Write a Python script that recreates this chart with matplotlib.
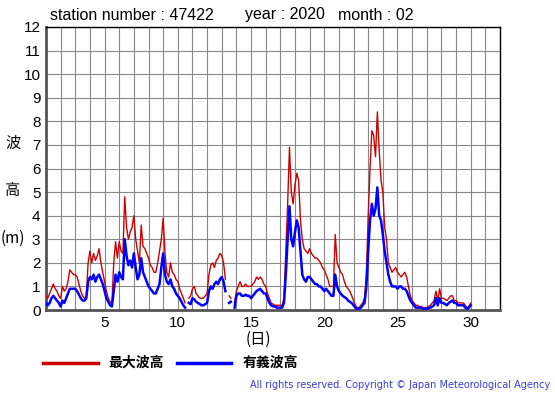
import numpy as np
import matplotlib
matplotlib.use("Agg")
import matplotlib.pyplot as plt

nan = np.nan
# 3-hourly values, day 1.0 .. day 30.0 (8 per day)
sig_wave = [
    0.3, 0.2, 0.3, 0.5, 0.6, 0.5, 0.4, 0.3,        # 1
    0.15, 0.4, 0.3, 0.5, 0.7, 0.9, 0.9, 0.9,       # 2
    0.9, 0.8, 0.65, 0.5, 0.4, 0.4, 0.5, 1.2,       # 3
    1.4, 1.3, 1.5, 1.2, 1.4, 1.5, 1.3, 1.1,        # 4
    0.8, 0.5, 0.35, 0.2, 0.15, 0.8, 1.5, 1.2,      # 5
    1.6, 1.4, 1.3, 3.0, 2.3, 1.9, 2.1, 1.8,        # 6
    2.4, 1.8, 1.3, 1.5, 2.2, 1.6, 1.4, 1.2,        # 7
    1.0, 0.9, 0.8, 0.7, 0.7, 0.9, 1.1, 1.8,        # 8
    2.4, 1.5, 1.2, 1.1, 1.3, 1.0, 0.9, 0.7,        # 9
    0.6, 0.5, 0.35, 0.2, 0.1, nan, 0.3, 0.25,      # 10
    0.5, 0.45, 0.35, 0.3, 0.25, 0.2, 0.2, 0.25,    # 11
    0.3, 0.8, 1.0, 0.9, 1.1, 1.2, 1.1, 1.3,        # 12
    1.4, 1.2, 0.8, nan, 0.3, 0.35, nan, 0.1,       # 13
    0.6, 0.7, 0.7, 0.6, 0.6, 0.65, 0.6, 0.6,       # 14
    0.5, 0.6, 0.7, 0.8, 0.85, 0.9, 0.8, 0.7,       # 15
    0.7, 0.5, 0.3, 0.2, 0.15, 0.15, 0.1, 0.1,      # 16
    0.1, 0.1, 0.3, 1.5, 3.0, 4.4, 3.0, 2.7,        # 17
    3.3, 3.8, 3.5, 2.5, 1.5, 1.3, 1.2, 1.4,        # 18
    1.4, 1.3, 1.2, 1.1, 1.1, 1.0, 1.0, 0.9,        # 19
    0.8, 0.9, 0.8, 0.7, 0.6, 0.6, 1.5, 1.0,        # 20
    0.8, 0.7, 0.6, 0.55, 0.5, 0.4, 0.35, 0.3,      # 21
    0.2, 0.1, 0.05, 0.05, 0.1, 0.2, 0.3, 1.0,      # 22
    2.5, 3.8, 4.5, 4.0, 4.3, 5.2, 4.0, 3.8,        # 23
    3.2, 2.5, 2.0, 1.5, 1.2, 1.0, 1.0, 1.0,        # 24
    0.9, 1.0, 1.0, 0.9, 0.9, 0.8, 0.6, 0.4,        # 25
    0.3, 0.2, 0.1, 0.1, 0.1, 0.1, 0.05, 0.05,      # 26
    0.05, 0.1, 0.1, 0.15, 0.2, 0.5, 0.2, 0.5,      # 27
    0.3, 0.3, 0.25, 0.2, 0.3, 0.35, 0.4, 0.3,      # 28
    0.3, 0.2, 0.2, 0.2, 0.2, 0.1, 0.05, 0.1,       # 29
    0.2,                                           # 30
]
max_wave = [
    0.6, 0.5, 0.7, 0.9, 1.1, 0.9, 0.8, 0.6,        # 1
    0.5, 1.0, 0.8, 0.9, 1.2, 1.7, 1.6, 1.5,        # 2
    1.5, 1.4, 1.1, 0.8, 0.6, 0.5, 0.6, 2.0,        # 3
    2.5, 2.0, 2.4, 2.1, 2.3, 2.6, 2.0, 1.6,        # 4
    1.2, 0.8, 0.5, 0.35, 0.25, 2.0, 2.9, 2.2,      # 5
    2.9, 2.5, 2.4, 4.8, 3.5, 3.0, 3.3, 3.5,        # 6
    4.0, 3.0, 2.5, 2.0, 3.6, 2.7, 2.6, 2.4,        # 7
    2.2, 1.9, 1.8, 1.6, 1.6, 2.0, 2.5, 3.0,        # 8
    3.9, 2.4, 1.6, 1.4, 2.0, 1.6, 1.5, 1.3,        # 9
    1.2, 0.9, 0.7, 0.5, 0.3, nan, 0.5, 0.6,        # 10
    0.9, 1.0, 0.7, 0.6, 0.5, 0.5, 0.5, 0.6,        # 11
    0.7, 1.5, 1.9, 2.0, 1.8, 2.1, 2.2, 2.4,        # 12
    2.3, 2.0, 1.3, nan, 0.6, 0.5, nan, 0.3,        # 13
    0.8, 1.0, 1.2, 1.0, 1.0, 1.1, 1.0, 1.0,        # 14
    1.0, 1.1, 1.2, 1.4, 1.3, 1.4, 1.3, 1.1,        # 15
    1.0, 0.7, 0.5, 0.3, 0.25, 0.2, 0.2, 0.2,       # 16
    0.2, 0.2, 0.5, 2.5, 4.5, 6.9, 5.0, 4.5,        # 17
    5.3, 5.8, 5.5, 3.8, 3.0, 2.6, 2.5, 2.4,        # 18
    2.6, 2.4, 2.3, 2.2, 2.2, 2.1, 2.0, 1.8,        # 19
    1.7, 1.5, 1.3, 1.0, 1.0, 1.0, 3.2, 2.0,        # 20
    1.8, 1.6, 1.5, 1.2, 1.0, 0.9, 0.8, 0.6,        # 21
    0.4, 0.2, 0.1, 0.1, 0.2, 0.3, 0.5, 1.5,        # 22
    4.0, 6.0, 7.6, 7.4, 6.5, 8.4, 6.8, 5.5,        # 23
    5.0, 3.5, 3.0, 2.0, 1.8, 1.6, 1.7, 1.8,        # 24
    1.6, 1.5, 1.4, 1.5, 1.6, 1.4, 1.0, 0.6,        # 25
    0.4, 0.3, 0.2, 0.2, 0.15, 0.15, 0.1, 0.1,      # 26
    0.1, 0.15, 0.2, 0.3, 0.4, 0.8, 0.4, 0.9,       # 27
    0.5, 0.5, 0.45, 0.4, 0.5, 0.6, 0.6, 0.4,       # 28
    0.4, 0.3, 0.3, 0.3, 0.3, 0.2, 0.1, 0.15,       # 29
    0.3,                                           # 30
]
days = 1.0 + np.arange(len(sig_wave)) / 8.0

x_ticks = [5, 10, 15, 20, 25, 30]
y_ticks = list(range(0, 13))

W, H = 555, 395
fig = plt.figure(figsize=(W / 100, H / 100), dpi=100)
ax = fig.add_axes([46 / W, 1 - 310 / H, (500 - 46) / W, (310 - 27) / H])

ax.plot(days, max_wave, color='#cc0000', lw=1.0, zorder=3)
ax.plot(days, sig_wave, color='#0000ff', lw=1.8, zorder=4)

ax.set_xlim(1, 32)
ax.set_ylim(0, 12)
ax.set_xticks(np.arange(1, 33), minor=False)
ax.set_xticklabels([str(d) if d in x_ticks else '' for d in range(1, 33)])
ax.set_yticks(y_ticks)
ax.set_yticklabels([str(v) for v in y_ticks])
ax.grid(True, color='#888888', lw=0.8)
ax.set_axisbelow(True)
ax.tick_params(length=0, labelsize=11, pad=4)
for lab in ax.get_xticklabels() + ax.get_yticklabels():
    lab.set_fontfamily('Liberation Sans')
for s in ['top', 'right']:
    ax.spines[s].set_color('black')
    ax.spines[s].set_linewidth(1.0)
for s in ['left', 'bottom']:
    ax.spines[s].set_color('#555555')
    ax.spines[s].set_linewidth(2.0)

def fx(x):
    return x / W

def fy(y):
    return 1 - y / H

tf = dict(family='Liberation Sans', fontsize=11.5, va='center', ha='left')
fig.text(fx(50), fy(15), 'station number : 47422', **tf)
fig.text(fx(245), fy(15), 'year : 2020', **tf)
fig.text(fx(338), fy(15), 'month : 02', **tf)

jp = ['Noto Sans CJK JP', 'DejaVu Sans']
fig.text(fx(13), fy(143), '波', family=jp, fontsize=11, ha='center', va='center')
fig.text(fx(13), fy(190), '高', family=jp, fontsize=11, ha='center', va='center')
fig.text(fx(13), fy(238), '(m)', family=jp, fontsize=11, ha='center', va='center')
fig.text(fx(258), fy(339), '(日)', family=jp, fontsize=11, ha='center', va='center')

fig.lines.append(plt.Line2D([fx(43), fx(98)], [fy(363), fy(363)], color='#cc0000', lw=2.5, transform=fig.transFigure))
fig.text(fx(108), fy(363), '最大波高', family=jp, fontsize=10, fontweight='bold', ha='left', va='center')
fig.lines.append(plt.Line2D([fx(177), fx(231)], [fy(363), fy(363)], color='#0000ff', lw=2.5, transform=fig.transFigure))
fig.text(fx(243), fy(363), '有義波高', family=jp, fontsize=10, fontweight='bold', ha='left', va='center')

fig.text(fx(550), fy(385), 'All rights reserved. Copyright © Japan Meteorological Agency',
         family='DejaVu Sans', fontsize=7, color='#3a3ae0', ha='right', va='center')

fig.savefig('out.png', dpi=100)
